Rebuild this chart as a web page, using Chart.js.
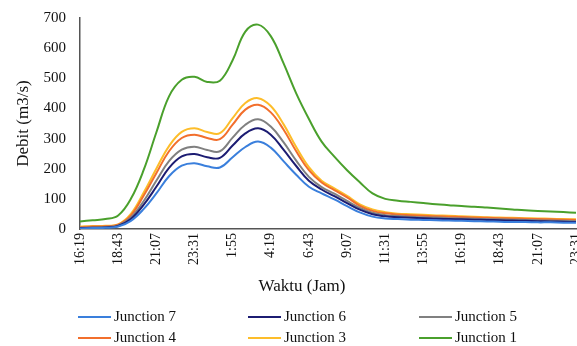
<!DOCTYPE html>
<html>
<head>
<meta charset="utf-8">
<script src="https://cdn.jsdelivr.net/npm/chart.js@4"></script>
<style>
    html, body { margin: 0; padding: 0; background: #fff; }
    #wrap { position: relative; width: 577px; height: 346px; font-family: 'Liberation Serif', serif; color: #111; }
    #grafico { position: absolute; left: 0; top: 0; }
    #titulo-x { position: absolute; left: 302px; top: 276px; transform: translateX(-50%); font-size: 17px; white-space: nowrap; }
    #legenda { position: absolute; left: 78px; top: 306px; display: grid; grid-template-columns: 170px 171px 120px; row-gap: 0px; font-size: 15px; }
    .item { display: flex; align-items: center; height: 21px; white-space: nowrap; }
    .item span.linha { display: inline-block; width: 33px; height: 2px; margin-right: 3px; }
</style>
</head>
<body>
<div id="wrap">
    <canvas id="grafico" width="577" height="346"></canvas>
    <div id="titulo-x">Waktu (Jam)</div>
    <div id="legenda"></div>
</div>
<script>
// Horários (intervalo de 48 min)
const horas = ['16:19','17:07','17:55','18:43','19:31','20:19','21:07','21:55','22:43','23:31',
    '0:19','1:07','1:55','2:43','3:31','4:19','5:07','5:55','6:43','7:31',
    '8:19','9:07','9:55','10:43','11:31','12:19','13:07','13:55','14:43','15:31',
    '16:19','17:07','17:55','18:43','19:31','20:19','21:07','21:55','22:43','23:31'];

// Debit por junction (m3/s)
const junction7 = [2,3,4,8,27,66,118,175,210,218,208,204,238,272,290,270,225,180,140,118,
    98,76,55,41,35,33,31,30,29,28,27,26,25,24,23,23,22,22,21,21];
const junction6 = [3,4,5,10,33,80,140,203,241,249,238,236,277,317,334,313,263,209,160,131,
    109,86,64,49,42,39,37,36,34,33,32,31,30,29,28,27,26,25,24,23];
const junction5 = [4,5,7,12,38,92,160,225,263,273,262,258,303,346,364,340,288,227,173,139,
    117,93,70,54,46,43,41,39,38,36,35,34,33,32,31,30,29,28,27,26];
const junction4 = [6,8,9,14,45,110,185,258,302,313,302,298,346,396,412,387,330,258,195,154,
    129,105,77,60,52,48,46,44,42,41,40,38,37,36,35,34,33,32,31,30];
const junction3 = [8,10,11,15,50,120,200,275,322,334,322,318,368,418,434,408,348,272,205,160,
    135,110,82,65,56,51,49,47,45,44,42,41,39,38,37,36,35,34,33,32];
const junction1 = [25,29,33,45,100,195,320,440,495,505,488,492,560,655,678,640,550,450,365,290,
    240,195,155,118,100,94,90,86,82,79,76,74,71,68,65,62,60,58,56,54];

const yTicks = [0, 100, 200, 300, 400, 500, 600, 700];

const series = [
    { label: 'Junction 7', data: junction7, cor: '#3a7fdc' },
    { label: 'Junction 6', data: junction6, cor: '#1c1c72' },
    { label: 'Junction 5', data: junction5, cor: '#808080' },
    { label: 'Junction 4', data: junction4, cor: '#f26f2c' },
    { label: 'Junction 3', data: junction3, cor: '#fdbd2a' },
    { label: 'Junction 1', data: junction1, cor: '#4aa02c' }
];

const fonte = 'Liberation Serif';

const grafico = new Chart(document.getElementById('grafico'), {
    type: 'line',
    data: {
        labels: horas,
        datasets: series.map(s => ({
            label: s.label,
            data: s.data,
            borderColor: s.cor,
            backgroundColor: s.cor,
            borderWidth: 2,
            pointRadius: 0,
            tension: 0.4,
            fill: false
        }))
    },
    options: {
        responsive: false,
        animation: false,
        layout: { padding: { left: 9, right: 1, top: 18, bottom: 71 } },
        plugins: {
            legend: { display: false },
            tooltip: { enabled: false }
        },
        scales: {
            x: {
                grid: { display: false, drawTicks: false },
                border: { display: true, color: '#555', width: 1.5 },
                ticks: {
                    autoSkip: false,
                    maxRotation: 90,
                    minRotation: 90,
                    padding: 4,
                    color: '#111',
                    font: { family: fonte, size: 14 },
                    callback: (v, i) => i % 3 === 0 ? horas[i] : null
                },
                afterFit: (scale) => {
                    scale.height = 46;
                    scale.paddingLeft = 0;
                    scale.paddingRight = 0;
                }
            },
            y: {
                min: 0,
                max: 700,
                grid: { display: false, drawTicks: false },
                border: { display: true, color: '#555', width: 1.5 },
                afterBuildTicks: (scale) => {
                    scale.ticks = yTicks.map(v => ({ value: v }));
                },
                ticks: {
                    padding: 14,
                    color: '#111',
                    font: { family: fonte, size: 15 }
                },
                title: {
                    display: true,
                    text: 'Debit (m3/s)',
                    color: '#111',
                    font: { family: fonte, size: 17 },
                    padding: { top: 4, bottom: 4 }
                },
                afterFit: (scale) => {
                    scale.width = 71;
                    scale.paddingTop = 0;
                    scale.paddingBottom = 0;
                }
            }
        }
    }
});

// Legenda em HTML (3 colunas)
const legenda = document.getElementById('legenda');
series.forEach(s => {
    const item = document.createElement('div');
    item.className = 'item';
    item.innerHTML = `<span class="linha" style="background:${s.cor}"></span>${s.label}`;
    legenda.appendChild(item);
});
</script>
</body>
</html>
